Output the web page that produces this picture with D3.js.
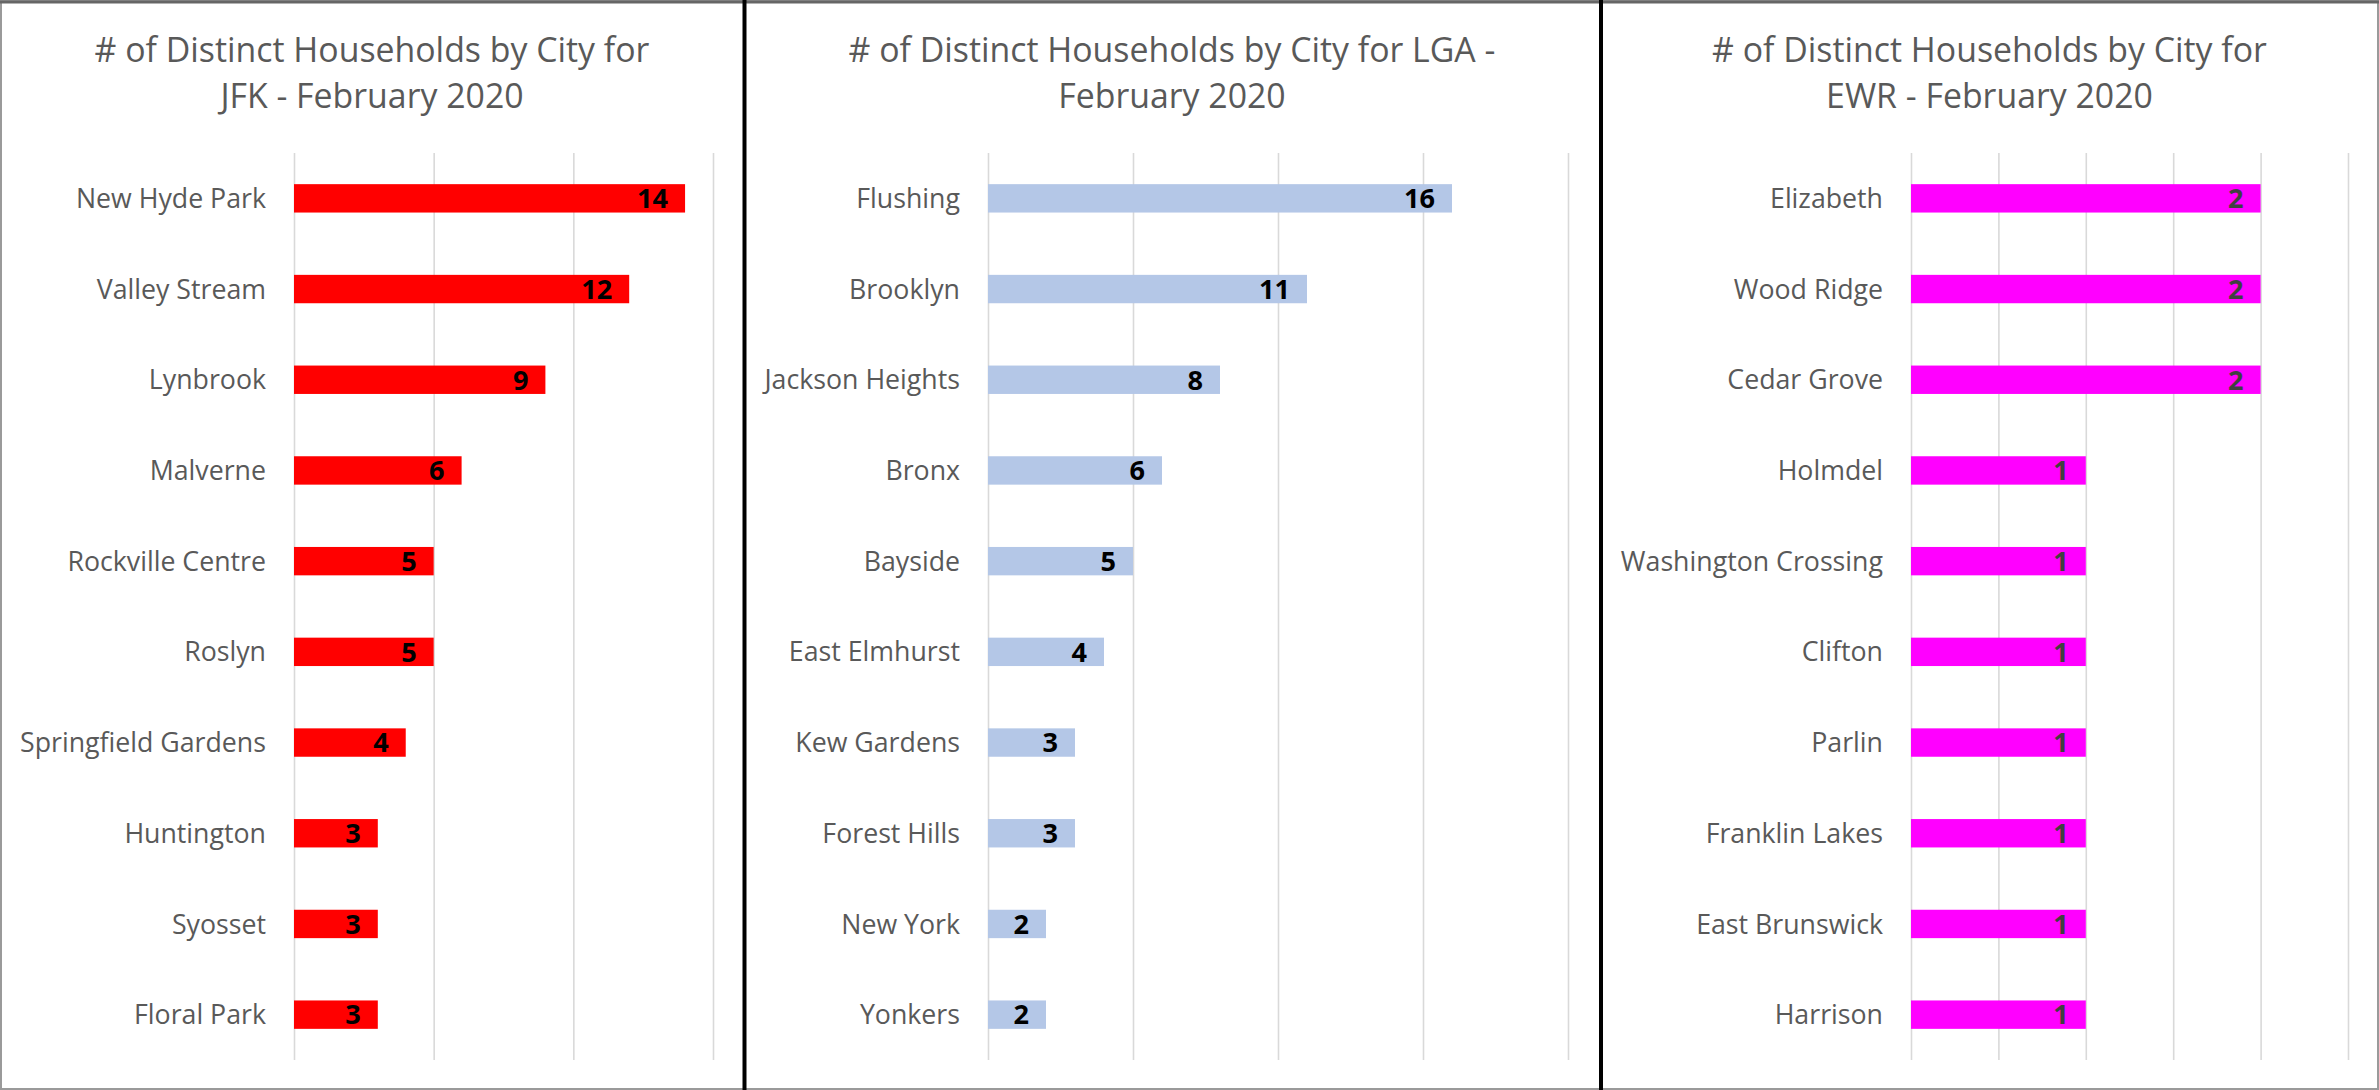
<!DOCTYPE html>
<html>
<head>
<meta charset="utf-8">
<script src="https://cdn.jsdelivr.net/npm/d3@7"></script>
<style>
  html, body { margin: 0; padding: 0; background: #ffffff; }
  svg { display: block; }
</style>
</head>
<body>
<svg id="chart" width="2379" height="1090"></svg>
<script>
// ---------- DATA ----------
const jfkCities = ["New Hyde Park", "Valley Stream", "Lynbrook", "Malverne", "Rockville Centre", "Roslyn", "Springfield Gardens", "Huntington", "Syosset", "Floral Park"];
const jfkValues = [14, 12, 9, 6, 5, 5, 4, 3, 3, 3];
const jfkTicks = [0, 5, 10, 15];

const lgaCities = ["Flushing", "Brooklyn", "Jackson Heights", "Bronx", "Bayside", "East Elmhurst", "Kew Gardens", "Forest Hills", "New York", "Yonkers"];
const lgaValues = [16, 11, 8, 6, 5, 4, 3, 3, 2, 2];
const lgaTicks = [0, 5, 10, 15, 20];

const ewrCities = ["Elizabeth", "Wood Ridge", "Cedar Grove", "Holmdel", "Washington Crossing", "Clifton", "Parlin", "Franklin Lakes", "East Brunswick", "Harrison"];
const ewrValues = [2, 2, 2, 1, 1, 1, 1, 1, 1, 1];
const ewrTicks = [0, 0.5, 1, 1.5, 2, 2.5];

const titleJFK = ["# of Distinct Households by City for", "JFK - February 2020"];
const titleLGA = ["# of Distinct Households by City for LGA -", "February 2020"];
const titleEWR = ["# of Distinct Households by City for", "EWR - February 2020"];

// ---------- LAYOUT ----------
const W = 2379, H = 1090;
const FONT = "'Open Sans', 'Noto Sans', sans-serif";
const svg = d3.select("#chart");

// measure helper to fit font sizes to the reference's text widths
function fitSize(text, weight, targetWidth) {
  const t = svg.append("text").attr("font-family", FONT).attr("font-weight", weight)
    .attr("font-size", 100).text(text);
  const w = t.node().getComputedTextLength();
  t.remove();
  return 100 * targetWidth / w;
}
const titleSize = fitSize(titleJFK[0], 400, 555);
const labelSize = fitSize("Springfield Gardens", 400, 246);
const valueSize = Math.min(fitSize("14", 700, 31), 30);

const panels = [
  { cities: jfkCities, values: jfkValues, ticks: jfkTicks, title: titleJFK, color: "#ff0000", valueColor: "#000000",
    x0: 0, x1: 744, plotL: 294, plotR: 713 },
  { cities: lgaCities, values: lgaValues, ticks: lgaTicks, title: titleLGA, color: "#b4c7e7", valueColor: "#000000",
    x0: 744, x1: 1600, plotL: 988, plotR: 1568 },
  { cities: ewrCities, values: ewrValues, ticks: ewrTicks, title: titleEWR, color: "#ff00ff", valueColor: "#404040",
    x0: 1600, x1: 2379, plotL: 1911, plotR: 2348 }
];

const plotTop = 153, plotBottom = 1060;

panels.forEach(p => {
  const g = svg.append("g");
  const x = d3.scaleLinear().domain([0, d3.max(p.ticks)]).range([p.plotL, p.plotR]);
  const y = d3.scaleBand().domain(p.cities).range([plotTop, plotBottom])
    .paddingInner(0.687).paddingOuter(0.3435);

  // title
  const cx = (p.x0 + p.x1) / 2;
  g.selectAll("text.title").data(p.title).join("text")
    .attr("class", "title")
    .attr("x", cx)
    .attr("y", (d, i) => 62 + i * 46)
    .attr("text-anchor", "middle")
    .attr("font-family", FONT)
    .attr("font-size", titleSize)
    .attr("fill", "#595959")
    .text(d => d);

  // gridlines via axis
  const gridAxis = d3.axisBottom(x).tickValues(p.ticks).tickSize(-(plotBottom - plotTop)).tickFormat("");
  const grid = g.append("g").attr("transform", `translate(0,${plotBottom})`).call(gridAxis);
  grid.select(".domain").remove();
  grid.selectAll(".tick line").attr("stroke", "#d9d9d9").attr("stroke-width", 1.6);

  // category axis
  const yAxis = d3.axisLeft(y).tickSize(0).tickPadding(0);
  const ya = g.append("g").attr("transform", `translate(${p.plotL - 28},0)`).call(yAxis);
  ya.select(".domain").remove();
  ya.selectAll(".tick text")
    .attr("font-family", FONT)
    .attr("font-size", labelSize)
    .attr("fill", "#595959")
    .attr("dy", "0.36em");

  // bars
  const rows = p.cities.map((c, i) => ({ city: c, value: p.values[i] }));
  g.selectAll("rect.bar").data(rows).join("rect")
    .attr("class", "bar")
    .attr("x", x(0))
    .attr("y", d => y(d.city))
    .attr("width", d => x(d.value) - x(0))
    .attr("height", y.bandwidth())
    .attr("fill", p.color);

  // value labels (inside end)
  g.selectAll("text.val").data(rows).join("text")
    .attr("class", "val")
    .attr("x", d => x(d.value) - 17)
    .attr("y", d => y(d.city) + y.bandwidth() / 2)
    .attr("dy", "0.36em")
    .attr("text-anchor", "end")
    .attr("font-family", FONT)
    .attr("font-weight", 700)
    .attr("font-size", valueSize)
    .attr("fill", p.valueColor)
    .text(d => d.value);
});

// borders
svg.append("rect").attr("x", 1).attr("y", 1).attr("width", W - 2).attr("height", H - 2)
  .attr("fill", "none").attr("stroke", "#9a9a9a").attr("stroke-width", 2);
svg.append("line").attr("x1", 0).attr("x2", W).attr("y1", 2).attr("y2", 2)
  .attr("stroke", "#666666").attr("stroke-width", 3);
[744.5, 1601].forEach(sx => {
  svg.append("line").attr("x1", sx).attr("x2", sx).attr("y1", 0).attr("y2", H)
    .attr("stroke", "#000000").attr("stroke-width", 4);
});
</script>
</body>
</html>
